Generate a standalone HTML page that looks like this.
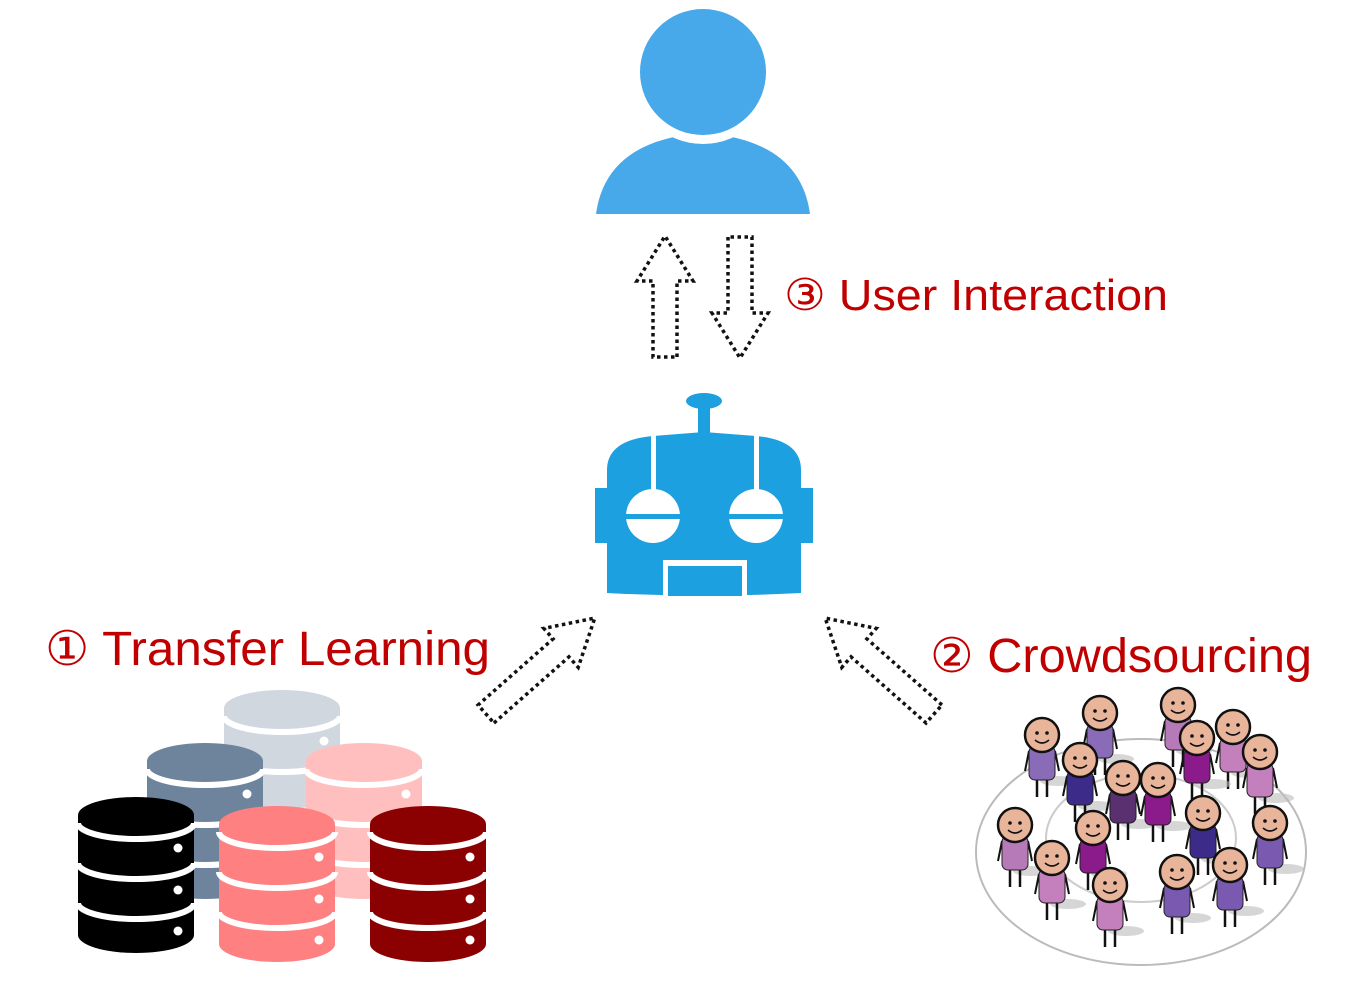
<!DOCTYPE html>
<html><head><meta charset="utf-8"><style>
html,body{margin:0;padding:0;background:#fff;}
svg{display:block}
text{font-family:"Liberation Sans",sans-serif;fill:#c00000}
</style></head><body>
<svg width="1359" height="984" viewBox="0 0 1359 984" xmlns="http://www.w3.org/2000/svg">
<defs>
<g id="db">
  <ellipse cx="58" cy="18" rx="58" ry="18" fill="currentColor"/>
  <rect x="0" y="18" width="116" height="120" fill="currentColor"/>
  <ellipse cx="58" cy="138" rx="58" ry="18" fill="currentColor"/>
  <path d="M0,26 A58,16 0 0 0 116,26" fill="none" stroke="#fff" stroke-width="6"/>
  <path d="M0,66 A58,16 0 0 0 116,66" fill="none" stroke="#fff" stroke-width="6"/>
  <path d="M0,106 A58,16 0 0 0 116,106" fill="none" stroke="#fff" stroke-width="6"/>
  <circle cx="100" cy="51" r="4.5" fill="#fff"/>
  <circle cx="100" cy="93" r="4.5" fill="#fff"/>
  <circle cx="100" cy="134" r="4.5" fill="#fff"/>
</g>
<path id="arr" d="M0,-12 L-76,-12 L-76,-28 L-121,0 L-76,28 L-76,12 L0,12 Z" fill="none" stroke="#111" stroke-width="3.5" stroke-dasharray="3.5,3.5"/>
<path id="arr2" d="M0,-12 L-100,-12 L-100,-26 L-145,0 L-100,26 L-100,12 L0,12 Z" fill="none" stroke="#111" stroke-width="3.5" stroke-dasharray="3.5,3.5"/>
<g id="pg">
  <ellipse cx="16" cy="46" rx="18" ry="5" fill="#bbb" opacity="0.6"/>
  <line x1="-5" y1="40" x2="-5" y2="62" stroke="#111" stroke-width="2.5"/>
  <line x1="5" y1="40" x2="5" y2="62" stroke="#111" stroke-width="2.5"/>
  <line x1="-13" y1="16" x2="-17" y2="36" stroke="#111" stroke-width="2"/>
  <line x1="13" y1="16" x2="17" y2="36" stroke="#111" stroke-width="2"/>
  <rect x="-13" y="11" width="26" height="34" rx="6" fill="currentColor" stroke="#222" stroke-width="1"/>
  <circle cx="0" cy="0" r="17" fill="#e8b49a" stroke="#111" stroke-width="2.5"/>
  <circle cx="-5" cy="-2" r="1.8" fill="#111"/><circle cx="5" cy="-2" r="1.8" fill="#111"/>
  <path d="M-7,5 Q0,11 7,5" fill="none" stroke="#111" stroke-width="1.6"/>
</g>
</defs>

<!-- user -->
<path d="M596,214 Q606,140 703,133 Q800,140 810,214 Z" fill="#47a9ea"/>
<circle cx="703" cy="72" r="72" fill="#fff"/>
<circle cx="703" cy="72" r="63" fill="#47a9ea"/>

<!-- up/down arrows -->
<use href="#arr" transform="translate(665,357) rotate(90)"/>
<use href="#arr" transform="translate(740,237) rotate(-90)"/>
<text x="784" y="310" font-size="44" textLength="384" lengthAdjust="spacingAndGlyphs">③ User Interaction</text>

<!-- robot -->
<g fill="#1ca0e0">
  <ellipse cx="704" cy="401" rx="18" ry="8"/>
  <rect x="698" y="403" width="12" height="34"/>
  <path d="M607,488 L607,470 Q607,440 653,436 L704,432 L756,436 Q801,440 801,470 L801,593 Q704,598 607,593 Z"/>
  <rect x="595" y="488" width="14" height="55"/>
  <rect x="799" y="488" width="14" height="55"/>
</g>
<g fill="#fff">
  <rect x="651" y="434" width="5" height="58"/>
  <rect x="754" y="434" width="5" height="58"/>
  <circle cx="653" cy="516" r="27"/>
  <circle cx="756" cy="516" r="27"/>
  <rect x="663" y="560" width="84" height="36"/>
</g>
<rect x="624" y="514" width="60" height="5" fill="#1ca0e0"/>
<rect x="727" y="514" width="60" height="5" fill="#1ca0e0"/>
<rect x="668" y="566" width="74" height="30" fill="#1ca0e0"/>

<!-- diagonal arrows -->
<use href="#arr2" transform="translate(486,714) rotate(138.6)"/>
<use href="#arr2" transform="translate(934,714) rotate(41.4)"/>

<text x="45" y="665" font-size="48" textLength="445" lengthAdjust="spacingAndGlyphs">① Transfer Learning</text>
<text x="930" y="672" font-size="48" textLength="382" lengthAdjust="spacingAndGlyphs">② Crowdsourcing</text>

<!-- databases -->
<use href="#db" x="224" y="690" style="color:#d0d7df"/>
<use href="#db" x="147" y="743" style="color:#6d849c"/>
<use href="#db" x="306" y="743" style="color:#ffbfbf"/>
<use href="#db" x="78" y="797" style="color:#000"/>
<use href="#db" x="219" y="806" style="color:#ff8080"/>
<use href="#db" x="370" y="806" style="color:#8b0000"/>

<!-- crowd -->
<ellipse cx="1141" cy="852" rx="165" ry="113" fill="none" stroke="#bbb" stroke-width="2"/>
<ellipse cx="1141" cy="838" rx="95" ry="64" fill="none" stroke="#ccc" stroke-width="2"/>
<use href="#pg" transform="translate(1042,735)" style="color:#8a6bb8"/>
<use href="#pg" transform="translate(1100,713)" style="color:#8a6bb8"/>
<use href="#pg" transform="translate(1178,705)" style="color:#b77ab8"/>
<use href="#pg" transform="translate(1233,727)" style="color:#c47fbd"/>
<use href="#pg" transform="translate(1197,738)" style="color:#8b1a8b"/>
<use href="#pg" transform="translate(1260,752)" style="color:#c47fbd"/>
<use href="#pg" transform="translate(1080,760)" style="color:#3d2b8a"/>
<use href="#pg" transform="translate(1123,778)" style="color:#5a3070"/>
<use href="#pg" transform="translate(1158,780)" style="color:#8b1a8b"/>
<use href="#pg" transform="translate(1203,813)" style="color:#3d2b8a"/>
<use href="#pg" transform="translate(1015,825)" style="color:#b77ab8"/>
<use href="#pg" transform="translate(1093,828)" style="color:#8b1a8b"/>
<use href="#pg" transform="translate(1270,823)" style="color:#7a5ab0"/>
<use href="#pg" transform="translate(1052,858)" style="color:#c47fbd"/>
<use href="#pg" transform="translate(1230,865)" style="color:#7a5ab0"/>
<use href="#pg" transform="translate(1177,872)" style="color:#7a5ab0"/>
<use href="#pg" transform="translate(1110,885)" style="color:#c47fbd"/>
</svg>
</body></html>
